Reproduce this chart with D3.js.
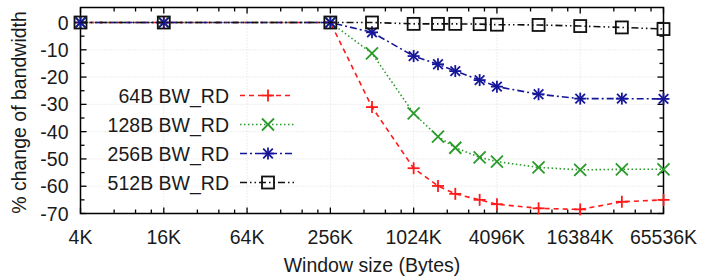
<!DOCTYPE html>
<html>
<head>
<meta charset="utf-8">
<script src="https://cdn.jsdelivr.net/npm/d3@7"></script>
<style>
  html, body { margin: 0; padding: 0; background: #fff; }
  svg { display: block; }
  text { font-family: "Liberation Sans", Arial, Helvetica, sans-serif; fill: #1a1a1a; }
</style>
</head>
<body>
<svg id="chart" width="706" height="279"></svg>
<script>
// ---- data ----
const windowSizesK = [4, 16, 256, 512, 1024, 1536, 2048, 3072, 4096, 8192, 16384, 32768, 65536];
const bw64  = [0, 0, 0, -31.0, -53.4, -59.9, -62.8, -65.0, -66.6, -68.1, -68.5, -65.7, -65.0];
const bw128 = [0, 0, 0, -11.3, -33.3, -41.8, -45.9, -49.4, -51.0, -53.1, -54.0, -53.8, -53.8];
const bw256 = [0, 0, 0, -3.6, -12.3, -15.3, -17.8, -21.1, -23.5, -26.3, -27.9, -27.9, -28.0];
const bw512 = [0, 0, 0, 0, -0.5, -0.5, -0.5, -0.6, -0.8, -0.9, -1.3, -1.8, -2.4];
const seriesNames = ["64B BW_RD", "128B BW_RD", "256B BW_RD", "512B BW_RD"];
const xTickValues = [4, 16, 64, 256, 1024, 4096, 16384, 65536];
const xTickLabels = ["4K", "16K", "64K", "256K", "1024K", "4096K", "16384K", "65536K"];
const yTickValues = [0, -10, -20, -30, -40, -50, -60, -70];
const yMinorValues = [-5, -15, -25, -35, -45, -55, -65];
const xLabel = "Window size (Bytes)";
const yLabel = "% change of bandwidth";

// ---- layout ----
const L = 80.5, R = 663.5, T = 7.5, B = 213.5;
const svg = d3.select("#chart");
const FS = 19.5;

const x = d3.scaleLog().base(2).domain([4, 65536]).range([L, R]);
const y = d3.scaleLinear().domain([-70, 5.5]).range([B, T]);

const xMinor = [];
xTickValues.slice(0, -1).forEach(m => [1.75, 2.5, 3.25].forEach(f => xMinor.push(m * f)));

// grid
const grid = svg.append("g").attr("stroke", "#d4d4d4").attr("stroke-width", 0.8).attr("stroke-dasharray", "1,2");
xTickValues.slice(1, -1).forEach(v => grid.append("line").attr("x1", x(v)).attr("x2", x(v)).attr("y1", T).attr("y2", B));
yTickValues.slice(0, -1).forEach(v => grid.append("line").attr("x1", L).attr("x2", R).attr("y1", y(v)).attr("y2", y(v)));

// axes (inward ticks, mirrored)
const axG = svg.append("g").attr("stroke", "#000").attr("stroke-width", 1.3);
const ML = 6, mL = 4;
xTickValues.forEach(v => {
  axG.append("line").attr("x1", x(v)).attr("x2", x(v)).attr("y1", B).attr("y2", B - ML);
  axG.append("line").attr("x1", x(v)).attr("x2", x(v)).attr("y1", T).attr("y2", T + ML);
});
xMinor.forEach(v => {
  axG.append("line").attr("x1", x(v)).attr("x2", x(v)).attr("y1", B).attr("y2", B - mL);
  axG.append("line").attr("x1", x(v)).attr("x2", x(v)).attr("y1", T).attr("y2", T + mL);
});
yTickValues.forEach(v => {
  axG.append("line").attr("x1", L).attr("x2", L + ML).attr("y1", y(v)).attr("y2", y(v));
  axG.append("line").attr("x1", R).attr("x2", R - ML).attr("y1", y(v)).attr("y2", y(v));
});
yMinorValues.forEach(v => {
  axG.append("line").attr("x1", L).attr("x2", L + mL).attr("y1", y(v)).attr("y2", y(v));
  axG.append("line").attr("x1", R).attr("x2", R - mL).attr("y1", y(v)).attr("y2", y(v));
});
svg.append("rect").attr("x", L).attr("y", T).attr("width", R - L).attr("height", B - T)
  .attr("fill", "none").attr("stroke", "#000").attr("stroke-width", 1.5);

// tick labels
xTickValues.forEach((v, i) => {
  svg.append("text").attr("x", x(v)).attr("y", 244).attr("text-anchor", "middle")
    .attr("font-size", FS).text(xTickLabels[i]);
});
yTickValues.forEach(v => {
  svg.append("text").attr("x", 68.5).attr("y", y(v) + 7).attr("text-anchor", "end")
    .attr("font-size", FS).text(v);
});
svg.append("text").attr("x", (L + R) / 2).attr("y", 272).attr("text-anchor", "middle")
  .attr("font-size", FS).text(xLabel);
svg.append("text").attr("transform", `translate(25.5,${(T + B) / 2 + 2}) rotate(-90)`)
  .attr("text-anchor", "middle").attr("font-size", FS).text(yLabel);

// markers
function marker(g, type, cx, cy, color) {
  const s = 6;
  if (type === "plus" || type === "star") {
    g.append("line").attr("x1", cx - s).attr("x2", cx + s).attr("y1", cy).attr("y2", cy).attr("stroke", color);
    g.append("line").attr("x1", cx).attr("x2", cx).attr("y1", cy - s).attr("y2", cy + s).attr("stroke", color);
  }
  if (type === "cross" || type === "star") {
    const d = type === "star" ? 4.8 : 6;
    g.append("line").attr("x1", cx - d).attr("x2", cx + d).attr("y1", cy - d).attr("y2", cy + d).attr("stroke", color);
    g.append("line").attr("x1", cx - d).attr("x2", cx + d).attr("y1", cy + d).attr("y2", cy - d).attr("stroke", color);
  }
  if (type === "square") {
    g.append("rect").attr("x", cx - 6).attr("y", cy - 6).attr("width", 12).attr("height", 12)
      .attr("fill", "none").attr("stroke", color);
  }
}

const series = [
  { name: seriesNames[0], values: bw64,  color: "#ff1a1a", dash: "5,4", marker: "plus" },
  { name: seriesNames[1], values: bw128, color: "#2a9a2a", dash: "1.5,2.5", marker: "cross" },
  { name: seriesNames[2], values: bw256, color: "#16169a", dash: "7,3,2,3", marker: "star" },
  { name: seriesNames[3], values: bw512, color: "#111111", dash: "7,3,1.5,3,1.5,3", marker: "square" }
];
const legendY = [95.5, 124.5, 153.5, 182.5];
const line = d3.line().x(d => x(d[0])).y(d => y(d[1]));

series.forEach((s, i) => {
  const pts = windowSizesK.map((k, j) => [k, s.values[j]]);
  svg.append("path").datum(pts).attr("d", line).attr("fill", "none")
    .attr("stroke", s.color).attr("stroke-width", 1.6).attr("stroke-dasharray", s.dash);
  const mg = svg.append("g").attr("stroke-width", 1.8);
  pts.forEach(p => marker(mg, s.marker, x(p[0]), y(p[1]), s.color));

  // legend
  const ly = legendY[i];
  svg.append("text").attr("x", 229).attr("y", ly + 7).attr("text-anchor", "end")
    .attr("font-size", FS).text(s.name);
  svg.append("line").attr("x1", 240).attr("x2", 294).attr("y1", ly).attr("y2", ly)
    .attr("stroke", s.color).attr("stroke-width", 1.6).attr("stroke-dasharray", s.dash);
  const lg = svg.append("g").attr("stroke-width", 1.8);
  marker(lg, s.marker, 268, ly, s.color);
});
</script>
</body>
</html>
